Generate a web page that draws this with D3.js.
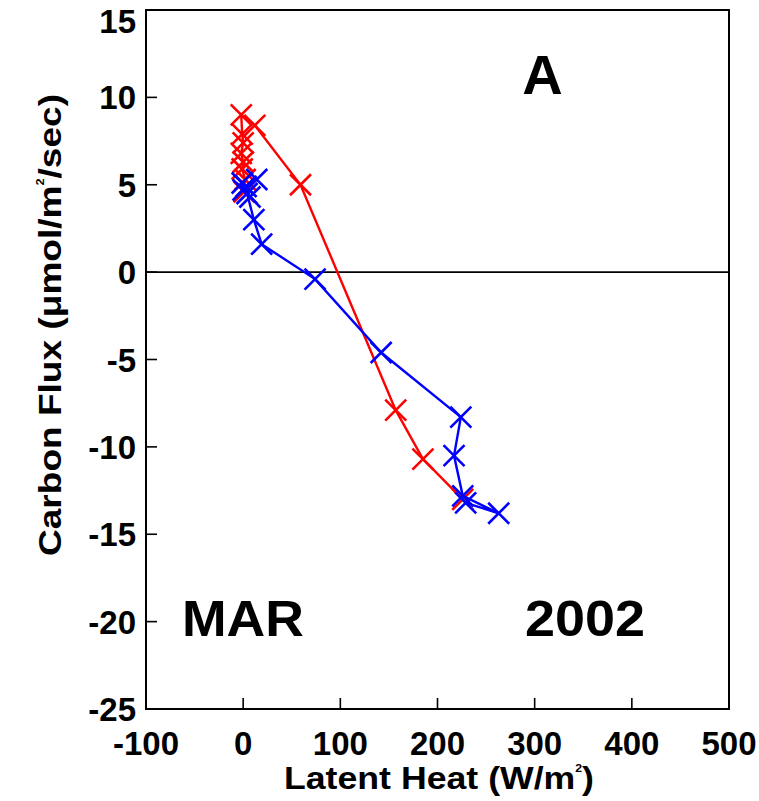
<!DOCTYPE html>
<html>
<head>
<meta charset="utf-8">
<script src="https://cdn.jsdelivr.net/npm/d3@7"></script>
<style>
  body { margin: 0; background: #fff; }
  text { font-family: "Liberation Sans", Arial, sans-serif; font-weight: bold; }
</style>
</head>
<body>
<svg id="chart"></svg>
<script>
// red series: latent heat (W/m2) and carbon flux
var redLatent = [1, 2, -1, 0, -2, 0, -1, -2, 12, 59, 157, 185, 226];
var redFlux   = [4.6, 5.3, 5.9, 6.3, 6.8, 7.4, 7.9, 9.0, 8.4, 5.0, -7.9, -10.7, -13.0];

// blue series
var blueLatent = [14, 3, 7, 0, -1, 4, 11, 19, 74, 142, 224, 217, 226, 263, 229];
var blueFlux   = [5.3, 4.9, 4.3, 4.7, 5.1, 4.5, 3.0, 1.6, -0.4, -4.6, -8.3, -10.5, -12.8, -13.8, -13.2];

var xTicks = [-100, 0, 100, 200, 300, 400, 500];
var yTicks = [-25, -20, -15, -10, -5, 0, 5, 10, 15];

function pairUp(xs, ys) {
    let out = [];
    for (let i = 0; i < xs.length; i++) {
        out.push({x: xs[i], y: ys[i]});
    }
    return out;
}

var redData = pairUp(redLatent, redFlux);
var blueData = pairUp(blueLatent, blueFlux);

var svgWidth = 759, svgHeight = 801;
var margin = {top: 10, right: 30, bottom: 92, left: 146};
var chartWidth = svgWidth - margin.left - margin.right;
var chartHeight = svgHeight - margin.top - margin.bottom;

var svg = d3.select('#chart')
    .attr('width', svgWidth)
    .attr('height', svgHeight);

var xScale = d3.scaleLinear().domain([-100, 500]).range([0, chartWidth]);
var yScale = d3.scaleLinear().domain([-25, 15]).range([chartHeight, 0]);

var chart = svg.append('g')
    .attr('transform', `translate(${margin.left}, ${margin.top})`);

// ticks (inward)
var tickLen = 11;
chart.selectAll('.xtick').data(xTicks).enter().append('line')
    .attr('x1', d => xScale(d)).attr('x2', d => xScale(d))
    .attr('y1', chartHeight).attr('y2', chartHeight - tickLen)
    .attr('stroke', '#000').attr('stroke-width', 1.6);

chart.selectAll('.ytick').data(yTicks).enter().append('line')
    .attr('x1', 0).attr('x2', tickLen)
    .attr('y1', d => yScale(d)).attr('y2', d => yScale(d))
    .attr('stroke', '#000').attr('stroke-width', 1.6);

// tick labels
chart.selectAll('.xlabel').data(xTicks).enter().append('text')
    .attr('x', d => xScale(d))
    .attr('y', chartHeight + 46)
    .attr('text-anchor', 'middle')
    .attr('font-size', 33)
    .text(d => d);

// top label gets pushed down so it stays on the page
chart.selectAll('.ylabel').data(yTicks).enter().append('text')
    .attr('x', -10)
    .attr('y', d => Math.max(yScale(d) + 12, 23))
    .attr('text-anchor', 'end')
    .attr('font-size', 33)
    .text(d => d);

// zero line
chart.append('line')
    .attr('x1', 0).attr('x2', chartWidth)
    .attr('y1', yScale(0)).attr('y2', yScale(0))
    .attr('stroke', '#000').attr('stroke-width', 1.6);

// frame
chart.append('rect')
    .attr('width', chartWidth).attr('height', chartHeight)
    .attr('fill', 'none').attr('stroke', '#000').attr('stroke-width', 2);

var line = d3.line().x(d => xScale(d.x)).y(d => yScale(d.y));

function drawSeries(data, colour) {
    chart.append('path')
        .datum(data)
        .attr('d', line)
        .attr('fill', 'none')
        .attr('stroke', colour)
        .attr('stroke-width', 2.4);

    let s = 10.5;
    chart.append('g').selectAll('path').data(data).enter().append('path')
        .attr('d', d => {
            let cx = xScale(d.x), cy = yScale(d.y);
            return `M${cx - s},${cy - s}L${cx + s},${cy + s}M${cx - s},${cy + s}L${cx + s},${cy - s}`;
        })
        .attr('stroke', colour)
        .attr('stroke-width', 2.6)
        .attr('fill', 'none');
}

drawSeries(redData, '#ff0000');
drawSeries(blueData, '#0000ff');

// annotations
chart.append('text')
    .attr('x', xScale(308)).attr('y', yScale(10.2))
    .attr('text-anchor', 'middle').attr('font-size', 56)
    .text('A');

chart.append('text')
    .attr('x', xScale(-63)).attr('y', yScale(-20.85))
    .attr('font-size', 50)
    .attr('textLength', 122)
    .attr('lengthAdjust', 'spacingAndGlyphs')
    .text('MAR');

chart.append('text')
    .attr('x', xScale(290)).attr('y', yScale(-20.85))
    .attr('font-size', 50)
    .attr('textLength', 120)
    .attr('lengthAdjust', 'spacingAndGlyphs')
    .text('2002');

// axis titles
var xTitle = svg.append('text')
    .attr('x', 284)
    .attr('y', 789)
    .attr('font-size', 32)
    .attr('textLength', 310)
    .attr('lengthAdjust', 'spacingAndGlyphs');
xTitle.append('tspan').text('Latent Heat (W/m');
xTitle.append('tspan').attr('font-size', 11).attr('dy', -17).text('2');
xTitle.append('tspan').attr('dy', 17).text(')');

var yTitle = svg.append('text')
    .attr('transform', 'translate(61, 556) rotate(-90)')
    .attr('font-size', 32)
    .attr('textLength', 462)
    .attr('lengthAdjust', 'spacingAndGlyphs');
yTitle.append('tspan').text('Carbon Flux (\u03bcmol/m');
yTitle.append('tspan').attr('font-size', 11).attr('dy', -17).text('2');
yTitle.append('tspan').attr('dy', 17).text('/sec)');
</script>
</body>
</html>
